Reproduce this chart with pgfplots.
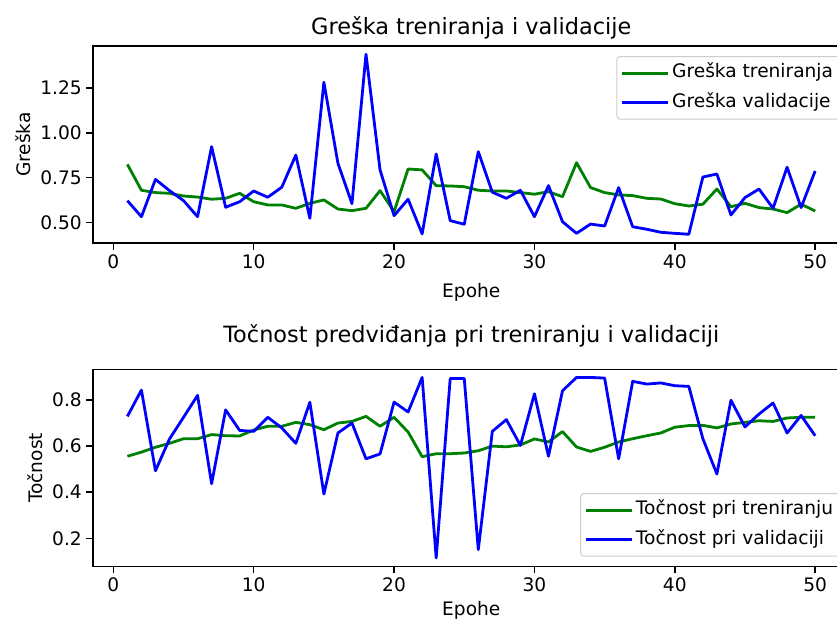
\documentclass[border=0pt]{standalone}
\usepackage{fontspec}
\setmainfont{DejaVu Sans}
\usepackage{pgfplots}
\pgfplotsset{compat=1.18}
\definecolor{mplgreen}{HTML}{008000}
\definecolor{mplblue}{HTML}{0000FF}
\pgfplotsset{
  mystyle/.style={
    scale only axis,
    width=567.4pt,
    xmin=-1.45, xmax=52.45,
    xtick={0,10,20,30,40,50},
    tick align=outside, tick pos=left,
    major tick length=4.9pt,
    every tick/.style={black, line width=1.1pt},
    axis line style={line width=1.1pt},
    tick label style={font=\fontsize{13.95}{16}\selectfont},
    label style={font=\fontsize{13.95}{16}\selectfont},
    title style={font=\fontsize{16.8}{20}\selectfont, at={(0.5,1)}, anchor=base},
    /pgf/number format/assume math mode=true,
    xlabel={Epohe},
    legend cell align=left,
    legend style={draw=black!20, fill=white, rounded corners=2.5pt, line width=0.75pt,
      font=\fontsize{13.95}{16}\selectfont,
      inner xsep=3pt, inner ysep=3.5pt, row sep=4pt,
      nodes={inner sep=2pt, text height=10.6pt, text depth=3.4pt}},
    legend image code/.code={\draw[#1] (0pt,0pt) -- (27.8pt,0pt); \path (0pt,0pt) -- (34.3pt,0pt);},
  },
  myline/.style={line width=2.1pt, line join=round},
}
\begin{document}
\begin{tikzpicture}
\begin{axis}[mystyle,
  at={(69.75pt,-34.5pt)}, anchor=north west,
  height=147.75pt,
  ymin=0.384, ymax=1.486,
  ytick={0.5,0.75,1,1.25},
  yticklabels={0.50,0.75,1.00,1.25},
  ylabel={Greška},
  xlabel style={yshift=-4.5pt},
  title={Greška treniranja i validacije},
  title style={yshift=2.5pt},
  legend style={at={(1,1)}, anchor=north east, xshift=-7pt, yshift=-7.5pt},
]
\addplot[myline, mplgreen] coordinates {
(1,0.824)(2,0.679)(3,0.666)(4,0.662)(5,0.647)(6,0.641)(7,0.629)(8,0.634)(9,0.662)(10,0.615)
(11,0.597)(12,0.597)(13,0.578)(14,0.606)(15,0.625)(16,0.574)(17,0.565)(18,0.578)(19,0.677)(20,0.559)
(21,0.798)(22,0.793)(23,0.705)(24,0.703)(25,0.699)(26,0.679)(27,0.675)(28,0.675)(29,0.666)(30,0.657)
(31,0.671)(32,0.643)(33,0.833)(34,0.694)(35,0.666)(36,0.653)(37,0.649)(38,0.634)(39,0.630)(40,0.604)
(41,0.591)(42,0.601)(43,0.686)(44,0.587)(45,0.606)(46,0.582)(47,0.574)(48,0.554)(49,0.601)(50,0.563)
};
\addlegendentry{Greška treniranja}
\addplot[myline, mplblue] coordinates {
(1,0.621)(2,0.531)(3,0.740)(4,0.677)(5,0.621)(6,0.531)(7,0.923)(8,0.584)(9,0.615)(10,0.675)
(11,0.640)(12,0.696)(13,0.876)(14,0.522)(15,1.283)(16,0.830)(17,0.604)(18,1.440)(19,0.793)(20,0.537)
(21,0.629)(22,0.435)(23,0.882)(24,0.509)(25,0.489)(26,0.895)(27,0.668)(28,0.634)(29,0.679)(30,0.531)
(31,0.705)(32,0.503)(33,0.438)(34,0.490)(35,0.479)(36,0.694)(37,0.475)(38,0.461)(39,0.444)(40,0.438)
(41,0.433)(42,0.753)(43,0.770)(44,0.541)(45,0.638)(46,0.686)(47,0.578)(48,0.808)(49,0.582)(50,0.787)
};
\addlegendentry{Greška validacije}
\end{axis}
\begin{axis}[mystyle,
  at={(69.75pt,-277pt)}, anchor=north west,
  height=148pt,
  ymin=0.077, ymax=0.933,
  ytick={0.2,0.4,0.6,0.8},
  yticklabels={0.2,0.4,0.6,0.8},
  ylabel={Točnost},
  title={Točnost predviđanja pri treniranju i validaciji},
  title style={yshift=14.5pt},
  legend style={at={(1,0)}, anchor=south east, xshift=-7pt, yshift=7.5pt},
]
\addplot[myline, mplgreen] coordinates {
(1,0.556)(2,0.574)(3,0.595)(4,0.612)(5,0.632)(6,0.632)(7,0.650)(8,0.645)(9,0.644)(10,0.670)
(11,0.686)(12,0.686)(13,0.703)(14,0.693)(15,0.671)(16,0.700)(17,0.707)(18,0.729)(19,0.686)(20,0.725)
(21,0.661)(22,0.554)(23,0.567)(24,0.567)(25,0.570)(26,0.580)(27,0.600)(28,0.597)(29,0.605)(30,0.631)
(31,0.618)(32,0.663)(33,0.596)(34,0.577)(35,0.595)(36,0.618)(37,0.632)(38,0.645)(39,0.657)(40,0.682)
(41,0.689)(42,0.690)(43,0.679)(44,0.696)(45,0.703)(46,0.710)(47,0.707)(48,0.722)(49,0.725)(50,0.725)
};
\addlegendentry{Točnost pri treniranju}
\addplot[myline, mplblue] coordinates {
(1,0.729)(2,0.843)(3,0.493)(4,0.631)(5,0.725)(6,0.820)(7,0.437)(8,0.757)(9,0.668)(10,0.664)
(11,0.725)(12,0.679)(13,0.612)(14,0.790)(15,0.392)(16,0.657)(17,0.700)(18,0.545)(19,0.566)(20,0.791)
(21,0.748)(22,0.898)(23,0.115)(24,0.893)(25,0.893)(26,0.151)(27,0.664)(28,0.715)(29,0.603)(30,0.827)
(31,0.556)(32,0.840)(33,0.898)(34,0.898)(35,0.895)(36,0.545)(37,0.881)(38,0.869)(39,0.874)(40,0.862)
(41,0.859)(42,0.632)(43,0.479)(44,0.799)(45,0.683)(46,0.739)(47,0.787)(48,0.657)(49,0.733)(50,0.645)
};
\addlegendentry{Točnost pri validaciji}
\end{axis}
\pgfresetboundingbox
\useasboundingbox (0pt,0pt) rectangle (627.75pt,-465.75pt);
\end{tikzpicture}
\end{document}
